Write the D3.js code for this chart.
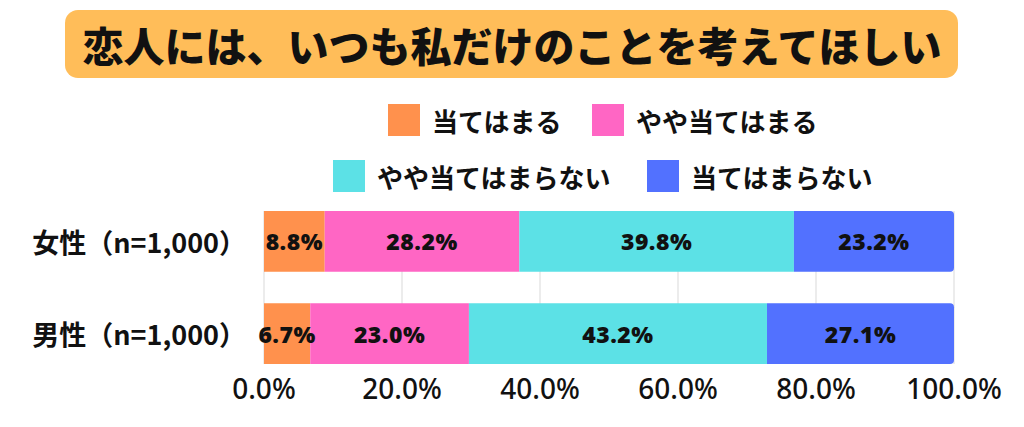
<!DOCTYPE html>
<html>
<head>
<meta charset="utf-8">
<script src="https://cdn.jsdelivr.net/npm/d3@7"></script>
<style>
  body { margin: 0; background: #fff; }
  svg { display: block; }
</style>
</head>
<body>
<div id="chart"></div>
<script>
// データ
var title = "恋人には、いつも私だけのことを考えてほしい";
var groups = ["女性（n=1,000）", "男性（n=1,000）"];
var answers = ["当てはまる", "やや当てはまる", "やや当てはまらない", "当てはまらない"];
var colors = ["#FF914D", "#FF66C4", "#5CE1E6", "#5271FF"];
var female = [8.8, 28.2, 39.8, 23.2];
var male = [6.7, 23.0, 43.2, 27.1];
var ticks = [0, 20, 40, 60, 80, 100];

var width = 1024, height = 427;
var svg = d3.select("#chart").append("svg")
  .attr("width", width)
  .attr("height", height);

var jp = "'Noto Sans CJK JP', 'Noto Sans', sans-serif";

// タイトル
svg.append("rect")
  .attr("x", 65).attr("y", 10)
  .attr("width", 893).attr("height", 68)
  .attr("rx", 13)
  .style("fill", "#FFBD59");
svg.append("text")
  .attr("x", 512).attr("y", 44)
  .attr("text-anchor", "middle")
  .attr("dominant-baseline", "central")
  .style("font-family", jp)
  .style("font-weight", 900)
  .style("font-size", "41px")
  .style("fill", "#111")
  .text(title);

// 凡例
var legendPos = [[388, 104], [592, 104], [333, 160], [647, 160]];
var legend = svg.selectAll(".legend")
  .data(answers)
  .enter()
  .append("g")
  .attr("class", "legend")
  .attr("transform", function (d, i) { return "translate(" + legendPos[i][0] + "," + legendPos[i][1] + ")"; });
legend.append("rect")
  .attr("width", 32).attr("height", 32)
  .style("fill", function (d, i) { return colors[i]; });
legend.append("text")
  .attr("x", 44).attr("y", 16)
  .attr("dominant-baseline", "central")
  .style("font-family", jp)
  .style("font-weight", 700)
  .style("font-size", "26px")
  .style("fill", "#111")
  .text(function (d) { return d; });

// スケール
var x = d3.scaleLinear().domain([0, 100]).range([264, 954]);
var y = d3.scaleBand().domain(groups).range([211, 364]).paddingInner(0.34).paddingOuter(0);

// グリッド線
svg.selectAll(".grid")
  .data(ticks)
  .enter()
  .append("line")
  .attr("class", "grid")
  .attr("x1", function (d) { return x(d); })
  .attr("x2", function (d) { return x(d); })
  .attr("y1", 211).attr("y2", 364)
  .style("stroke", "#d9d9d9")
  .style("stroke-width", 1);

// 積み上げ棒
var rows = [female, male];
rows.forEach(function (vals, r) {
  var acc = 0;
  var segs = vals.map(function (v, i) {
    var s = { start: acc, value: v, i: i };
    acc += v;
    return s;
  });
  var g = svg.append("g");
  g.selectAll("path")
    .data(segs)
    .enter()
    .append("path")
    .attr("d", function (d) {
      var x0 = x(d.start), x1 = x(d.start + d.value);
      var y0 = y(groups[r]), h = y.bandwidth();
      if (d.i === vals.length - 1) {
        var rr = 4;
        return "M" + x0 + "," + y0 + "H" + (x1 - rr) + "Q" + x1 + "," + y0 + " " + x1 + "," + (y0 + rr) +
          "V" + (y0 + h - rr) + "Q" + x1 + "," + (y0 + h) + " " + (x1 - rr) + "," + (y0 + h) + "H" + x0 + "Z";
      }
      return "M" + x0 + "," + y0 + "H" + x1 + "V" + (y0 + h) + "H" + x0 + "Z";
    })
    .style("fill", function (d) { return colors[d.i]; });
  g.selectAll("text")
    .data(segs)
    .enter()
    .append("text")
    .attr("x", function (d) { return x(d.start + d.value / 2); })
    .attr("y", y(groups[r]) + y.bandwidth() / 2)
    .attr("text-anchor", "middle")
    .attr("dominant-baseline", "central")
    .style("font-family", "'Noto Sans', sans-serif")
    .style("font-weight", 900)
    .style("font-size", "23px")
    .style("letter-spacing", "0.5px")
    .style("fill", "#111")
    .text(function (d) { return d.value.toFixed(1) + "%"; });
});

// カテゴリラベル
svg.selectAll(".cat")
  .data(groups)
  .enter()
  .append("text")
  .attr("class", "cat")
  .attr("x", 246)
  .attr("y", function (d) { return y(d) + y.bandwidth() / 2; })
  .attr("text-anchor", "end")
  .attr("dominant-baseline", "central")
  .style("font-family", jp)
  .style("font-weight", 700)
  .style("font-size", "27px")
  .style("fill", "#111")
  .text(function (d) { return d; });

// X軸ラベル
svg.selectAll(".tick-label")
  .data(ticks)
  .enter()
  .append("text")
  .attr("class", "tick-label")
  .attr("x", function (d) { return x(d); })
  .attr("y", 388)
  .attr("text-anchor", "middle")
  .attr("dominant-baseline", "central")
  .style("font-family", "'Noto Sans', sans-serif")
  .style("font-weight", 500)
  .style("font-size", "28px")
  .style("fill", "#111")
  .text(function (d) { return d.toFixed(1) + "%"; });
</script>
</body>
</html>
